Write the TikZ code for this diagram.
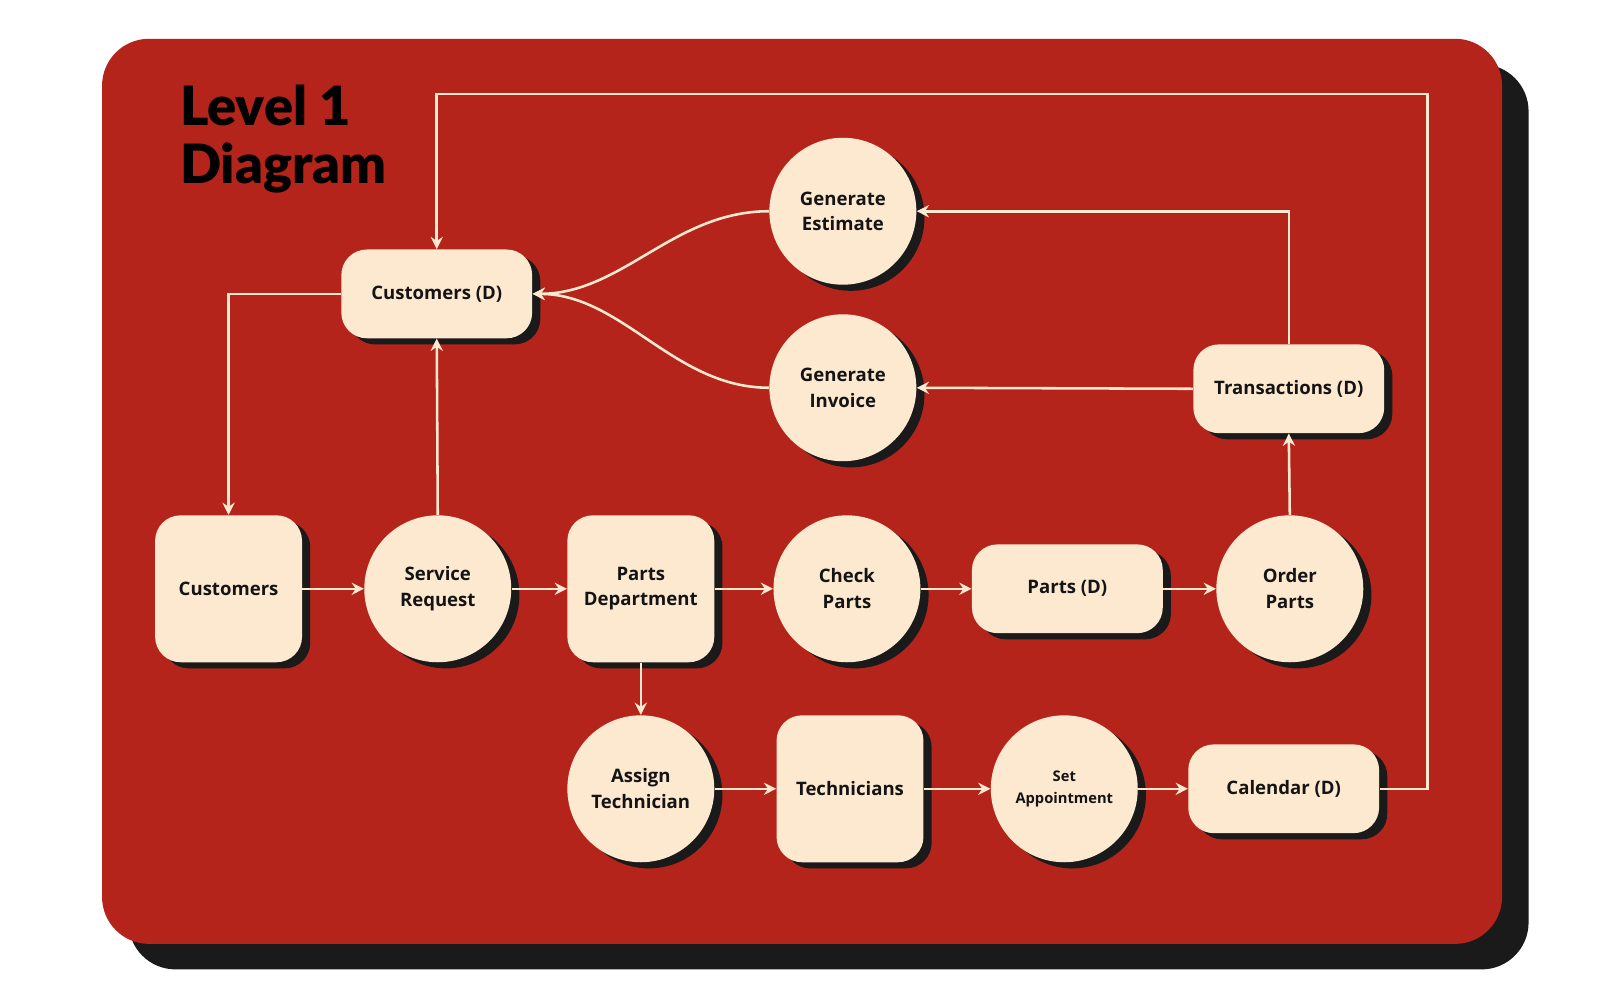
\documentclass[tikz,border=0pt]{standalone}
\usepackage{fontspec}
\setmainfont{Open Sans}
\newfontfamily\titlefont{Lato}[UprightFont=* Black]
\usetikzlibrary{arrows.meta,shadows,positioning}
\definecolor{panelred}{HTML}{B5241B}
\definecolor{cream}{HTML}{FDE8D0}
\definecolor{shadowc}{HTML}{1A1A1A}
\definecolor{inkc}{HTML}{141414}
\newcommand{\dn}[1]{\raisebox{-1pt}{#1}}
\tikzset{
  shad/.style={drop shadow={shadow xshift=4pt,shadow yshift=-3pt,opacity=1,fill=shadowc}},
  store/.style={shad,fill=cream,rounded corners=12.5pt,minimum width=93.5pt,minimum height=43.5pt,
    text=inkc,font=\fontsize{9.1}{12.5}\selectfont\bfseries,align=center,inner sep=0pt},
  entity/.style={shad,fill=cream,rounded corners=12.5pt,minimum width=72pt,minimum height=72pt,
    text=inkc,font=\fontsize{9.1}{12.5}\selectfont\bfseries,align=center,inner sep=0pt},
  proc/.style={shad,fill=cream,circle,minimum size=72pt,
    text=inkc,font=\fontsize{9.1}{12.5}\selectfont\bfseries,align=center,inner sep=0pt},
  flow/.style={draw=cream,line width=1.25pt,-{Stealth[length=6pt,width=6pt,inset=2pt]}},
}
\begin{document}
\begin{tikzpicture}[x=0.5pt,y=-0.5pt]
\useasboundingbox[fill=white] (0,0) rectangle (1568,980);
% panel
\fill[shadowc,rounded corners=23pt] (126,63) rectangle (1498,950);
\fill[panelred,rounded corners=23pt] (100,38) rectangle (1472,925);
% title
\node[anchor=base west,inner sep=0pt,font=\titlefont\fontsize{26.5}{28.5}\selectfont,text=black] (t1) at (176,123) {Level 1};
\node[anchor=base west,inner sep=0pt,font=\titlefont\fontsize{26.5}{28.5}\selectfont,text=black] (t2) at (176,180) {Diagram};
% nodes
\node[store] (cd) at (428,288) {\dn{Customers (D)}};
\node[proc] (ge) at (826,207) {\dn{Generate}\\\dn{Estimate}};
\node[proc] (gi) at (826,380) {\dn{Generate}\\\dn{Invoice}};
\node[store] (tr) at (1263,381) {\dn{Transactions (D)}};
\node[entity] (cu) at (224,577) {\dn{Customers}};
\node[proc] (sr) at (429,577) {\dn{Service}\\\dn{Request}};
\node[entity] (pd) at (628,577) {\dn{Parts}\\\dn{Department}};
\node[proc] (cp) at (830,577) {\dn{Check}\\\dn{Parts}};
\node[store] (pa) at (1046,577) {\dn{Parts (D)}};
\node[proc] (op) at (1264,577) {\dn{Order}\\\dn{Parts}};
\node[proc] (at) at (628,773) {\dn{Assign}\\\dn{Technician}};
\node[entity] (te) at (833,773) {\dn{Technicians}};
\node[proc,font=\fontsize{7.2}{10.5}\selectfont\bfseries] (sa) at (1043,773) {\dn{Set}\\\dn{Appointment}};
\node[store] (ca) at (1258,773) {\dn{Calendar (D)}};
\coordinate (loop) at (1399,92);
% connectors
\draw[flow] (ca.east) -| (loop) -| (cd.north);
\draw[flow] (cd.west) -| (cu.north);
\draw[flow] (cu.east) -- (sr.west);
\draw[flow] (sr.north) -- (cd.south);
\draw[flow] (sr.east) -- (pd.west);
\draw[flow] (pd.east) -- (cp.west);
\draw[flow] (cp.east) -- (pa.west);
\draw[flow] (pa.east) -- (op.west);
\draw[flow] (op.north) -- (tr.south);
\draw[flow] (tr.north) |- (ge.east);
\draw[flow] (tr.west) -- (gi.east);
\draw[flow] (ge.west) .. controls (660,207) and (610,288) .. (cd.east);
\draw[flow] (gi.west) .. controls (660,380) and (610,288) .. (cd.east);
\draw[flow] (pd.south) -- (at.north);
\draw[flow] (at.east) -- (te.west);
\draw[flow] (te.east) -- (sa.west);
\draw[flow] (sa.east) -- (ca.west);
\end{tikzpicture}
\end{document}
